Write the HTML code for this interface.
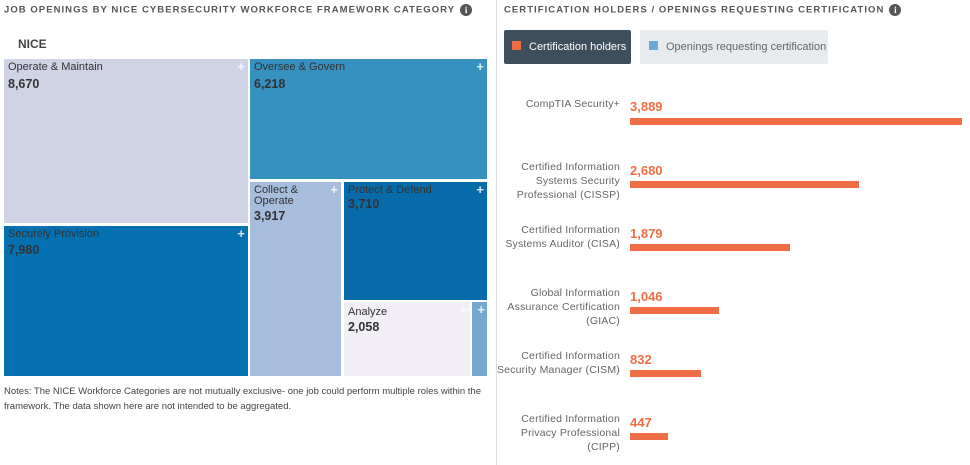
<!DOCTYPE html>
<html><head><style>
*{margin:0;padding:0;box-sizing:border-box}
body{width:970px;height:465px;background:#fff;font-family:"Liberation Sans",sans-serif;position:relative;overflow:hidden;color:#333}
.a{position:absolute}
.h{font-size:9.5px;font-weight:bold;letter-spacing:1.05px;color:#555}
.info{display:inline-block;width:12px;height:12px;border-radius:50%;background:#555;color:#fff;font-size:9px;text-align:center;line-height:12px;font-weight:bold;vertical-align:middle;margin-left:5px;letter-spacing:0;font-family:"Liberation Serif",serif}
.t{position:absolute}
.t .n{position:absolute;left:4px;top:3px;font-size:11px;line-height:11px;color:#333}
.t .v{position:absolute;left:4px;font-size:12.5px;font-weight:bold;color:#333}
.t .p{position:absolute;right:3px;top:0;color:#fff;font-size:13px;font-weight:bold;opacity:.85}
.lab{position:absolute;right:350px;text-align:right;font-size:10.5px;line-height:14px;color:#666;width:125px;letter-spacing:.2px}
.val{position:absolute;left:630px;font-size:13px;font-weight:bold;color:#ef6d45}
.bar{position:absolute;left:630px;height:7px;background:#ef6d45}
</style></head><body>
<div class="a h" style="left:4px;top:4px">JOB OPENINGS BY NICE CYBERSECURITY WORKFORCE FRAMEWORK CATEGORY<span class="info">i</span></div>
<div class="a" style="left:18px;top:37px;font-size:12px;font-weight:bold;color:#444">NICE</div>

<div class="t" style="left:4px;top:59px;width:244px;height:164px;background:#d0d2e6"><div class="n">Operate &amp; Maintain</div><div class="v" style="top:18px">8,670</div><div class="p">+</div></div>
<div class="t" style="left:4px;top:226px;width:244px;height:150px;background:#0570b0"><div class="n">Securely Provision</div><div class="v" style="top:17px">7,980</div><div class="p">+</div></div>
<div class="t" style="left:250px;top:59px;width:237px;height:120px;background:#3690c0"><div class="n">Oversee &amp; Govern</div><div class="v" style="top:18px">6,218</div><div class="p">+</div></div>
<div class="t" style="left:250px;top:182px;width:91px;height:194px;background:#a6bddb"><div class="n">Collect &amp;<br>Operate</div><div class="v" style="top:27px">3,917</div><div class="p">+</div></div>
<div class="t" style="left:344px;top:182px;width:143px;height:118px;background:#076aa9"><div class="n">Protect &amp; Defend</div><div class="v" style="top:15px">3,710</div><div class="p">+</div></div>
<div class="t" style="left:344px;top:302px;width:126px;height:74px;background:#f1eef6"><div class="n" style="top:5px">Analyze</div><div class="v" style="top:18px">2,058</div><div class="p">+</div></div>
<div class="t" style="left:472px;top:302px;width:15px;height:74px;background:#74a9cf"><div class="p" style="right:2px">+</div></div>

<div class="a" style="left:4px;top:384px;font-size:9.5px;line-height:15px;color:#444;width:480px">Notes: The NICE Workforce Categories are not mutually exclusive- one job could perform multiple roles within the framework. The data shown here are not intended to be aggregated.</div>

<div class="a" style="left:496px;top:0;width:1px;height:465px;background:#ddd"></div>

<div class="a h" style="left:504px;top:4px">CERTIFICATION HOLDERS / OPENINGS REQUESTING CERTIFICATION<span class="info">i</span></div>
<div class="a" style="left:504px;top:30px;width:127px;height:34px;background:#3d4e5c;border-radius:2px;color:#fff;font-size:11px;line-height:34px;padding-left:8px"><span style="display:inline-block;width:9px;height:9px;background:#ef6d45;margin-right:8px"></span>Certification holders</div>
<div class="a" style="left:640px;top:30px;width:188px;height:34px;background:#e8ebee;border-radius:2px;color:#666;font-size:11px;line-height:34px;padding-left:9px"><span style="display:inline-block;width:9px;height:9px;background:#6aaad8;margin-right:8px"></span>Openings requesting certification</div>

<div class="lab" style="top:97px">CompTIA Security+</div>
<div class="val" style="top:99px">3,889</div><div class="bar" style="top:118px;width:332px"></div>

<div class="lab" style="top:160px">Certified Information Systems Security Professional (CISSP)</div>
<div class="val" style="top:163px">2,680</div><div class="bar" style="top:181px;width:229px"></div>

<div class="lab" style="top:223px">Certified Information Systems Auditor (CISA)</div>
<div class="val" style="top:226px">1,879</div><div class="bar" style="top:244px;width:160px"></div>

<div class="lab" style="top:286px">Global Information Assurance Certification (GIAC)</div>
<div class="val" style="top:289px">1,046</div><div class="bar" style="top:307px;width:89px"></div>

<div class="lab" style="top:349px">Certified Information Security Manager (CISM)</div>
<div class="val" style="top:352px">832</div><div class="bar" style="top:370px;width:71px"></div>

<div class="lab" style="top:412px">Certified Information Privacy Professional (CIPP)</div>
<div class="val" style="top:415px">447</div><div class="bar" style="top:433px;width:38px"></div>
</body></html>
